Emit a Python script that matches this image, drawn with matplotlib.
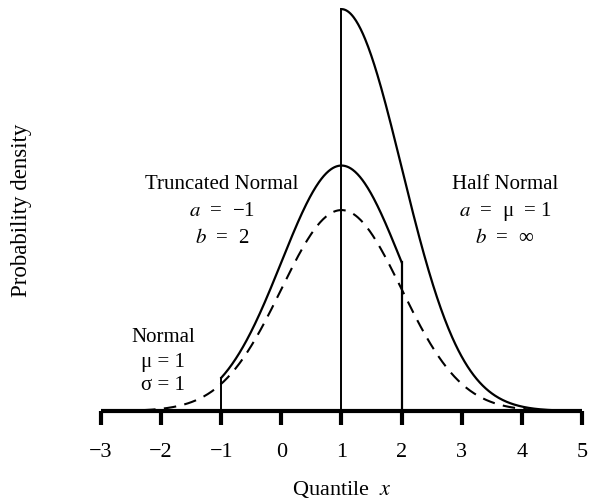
import numpy as np
import matplotlib
matplotlib.use("Agg")
import matplotlib.pyplot as plt
from math import erf

plt.rcParams["font.family"] = ["Liberation Serif", "DejaVu Serif"]
plt.rcParams["mathtext.fontset"] = "stix"

# distribution parameters (as written in the labels)
MU = 1.0
SIGMA = 1.0
TRUNC_A = -1.0
TRUNC_B = 2.0
HALF_A = 1.0

x_ticks = [-3, -2, -1, 0, 1, 2, 3, 4, 5]


def norm_pdf(x):
    return np.exp(-0.5 * ((x - MU) / SIGMA) ** 2) / (SIGMA * np.sqrt(2 * np.pi))


def norm_cdf(x):
    return 0.5 * (1 + erf((x - MU) / (SIGMA * np.sqrt(2))))


fig = plt.figure(figsize=(5.89, 5.01), dpi=100)
ax = fig.add_axes([0.1715, 0.1796, 0.8165, 0.8204])

# normal (dashed)
xn = np.linspace(-2.3, 4.3, 400)
ax.plot(xn, norm_pdf(xn), color="black", lw=1.5, ls=(0, (6, 4)))

# truncated normal on [a, b]
z = norm_cdf(TRUNC_B) - norm_cdf(TRUNC_A)
xt = np.linspace(TRUNC_A, TRUNC_B, 300)
yt = norm_pdf(xt) / z
ax.plot(xt, yt, color="black", lw=1.6)
ax.plot([TRUNC_A, TRUNC_A], [0, yt[0]], color="black", lw=1.4)
ax.plot([TRUNC_B, TRUNC_B], [0, yt[-1]], color="black", lw=1.6)

# half normal from a = mu
xh = np.linspace(HALF_A, 4.8, 300)
yh = 2 * norm_pdf(xh)
ax.plot(xh, yh, color="black", lw=1.6)
ax.plot([HALF_A, HALF_A], [0, yh[0]], color="black", lw=1.4)

# baseline
ax.plot([-3, 5], [0, 0], color="black", lw=3, clip_on=False, solid_capstyle="butt")

ax.set_xlim(-3, 5)
ax.set_ylim(0, 0.816)
for side in ["left", "right", "top", "bottom"]:
    ax.spines[side].set_visible(False)
ax.set_yticks([])
ax.set_xticks(x_ticks)
ax.tick_params(axis="x", direction="out", length=10, width=3, labelsize=16, pad=13)
ax.set_xlabel(r"Quantile  $x$", fontsize=16, labelpad=12)
fig.text(0.037, 0.58, "Probability density", rotation=90, fontsize=16.5,
         ha="center", va="center")

fs = 15
ax.text(-0.99, 0.449, "Truncated Normal", fontsize=fs, ha="center", va="center")
ax.text(-0.99, 0.397, r"$a$  =  −1", fontsize=fs, ha="center", va="center")
ax.text(-0.99, 0.343, r"$b$  =  2", fontsize=fs, ha="center", va="center")

ax.text(3.72, 0.449, "Half Normal", fontsize=fs, ha="center", va="center")
ax.text(3.72, 0.397, r"$a$  =  μ  = 1", fontsize=fs, ha="center", va="center")
ax.text(3.72, 0.343, r"$b$  =  ∞", fontsize=fs, ha="center", va="center")

ax.text(-1.97, 0.145, "Normal", fontsize=fs, ha="center", va="center")
ax.text(-1.97, 0.097, "μ = 1", fontsize=fs, ha="center", va="center")
ax.text(-1.97, 0.050, "σ = 1", fontsize=fs, ha="center", va="center")

fig.savefig("out.png", dpi=100)
